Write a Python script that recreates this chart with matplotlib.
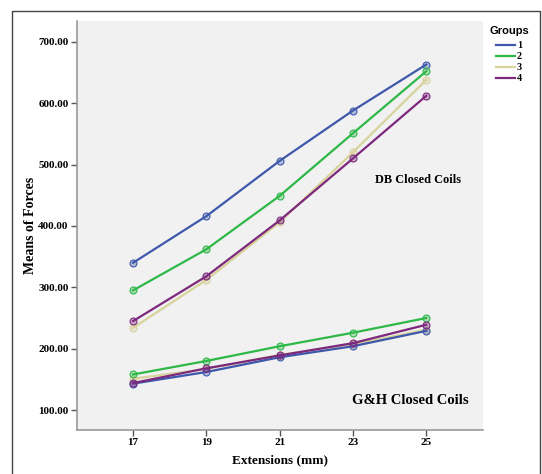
import matplotlib.pyplot as plt
from matplotlib.lines import Line2D
from matplotlib.colors import to_rgba

extensions = [17, 19, 21, 23, 25]
groups = ['1', '2', '3', '4']
colors = ['#3E58AC', '#2EB848', '#D8D29C', '#7C287D']

# DB closed coils, mean forces per group
db_forces = [
    [340, 416, 506, 588, 663],
    [295, 362, 449, 551, 652],
    [234, 312, 406, 520, 638],
    [245, 318, 409, 510, 612],
]
# G&H closed coils
gh_forces = [
    [143, 162, 186, 204, 229],
    [158, 180, 204, 226, 250],
    [151, 167, 190, 207, 231],
    [144, 168, 189, 209, 239],
]

serif = 'Liberation Serif'
W, H = 542, 474

fig = plt.figure(figsize=(W / 100, H / 100), dpi=100)
ax = fig.add_axes([77 / W, 44 / H, 406 / W, 409 / H])
ax.set_facecolor('#f1f1f1')

order = [2, 0, 1, 3]  # draw beige first so others sit on top
for i in order:
    c = colors[i]
    for vals in (db_forces[i], gh_forces[i]):
        ax.plot(extensions, vals, color=c, lw=1.6, marker='o', ms=5,
                mfc=to_rgba(c, 0.35), mec=c, mew=0.8, zorder=3)

ax.set_xlim(15.47, 26.55)
ax.set_ylim(67.5, 734)
ax.set_xticks(extensions)
ax.set_yticks([100, 200, 300, 400, 500, 600, 700])
ax.set_yticklabels([f'{v:.2f}' for v in ax.get_yticks()])
for lab in ax.get_xticklabels() + ax.get_yticklabels():
    lab.set_fontfamily(serif)
    lab.set_fontweight('bold')
    lab.set_fontsize(8)
ax.tick_params(direction='out', length=4, width=1, color='#555555', pad=2)

for s in ['top', 'right']:
    ax.spines[s].set_visible(False)
for s in ['left', 'bottom']:
    ax.spines[s].set_color('#999999')
    ax.spines[s].set_linewidth(1.2)

ax.set_xlabel('Extensions (mm)', fontfamily=serif, fontweight='bold', fontsize=9.5, labelpad=5)
ax.set_ylabel('Means of Forces', fontfamily=serif, fontweight='bold', fontsize=10, labelpad=1)

# annotations placed in figure pixels (y from top)
fig.text(418 / W, 1 - 180 / H, 'DB Closed Coils', fontfamily=serif,
         fontsize=8.8, fontweight='bold', ha='center', va='center')
fig.text(410 / W, 1 - 400 / H, 'G&H Closed Coils', fontfamily=serif,
         fontsize=10.5, fontweight='bold', ha='center', va='center')

fig.text(490 / W, 1 - 31 / H, 'Groups', fontfamily='Liberation Sans',
         fontsize=8, fontweight='bold', ha='left', va='center')
handles = [Line2D([], [], color=c, lw=1.6) for c in colors]
leg = fig.legend(handles, groups, loc='upper left', bbox_to_anchor=(496 / W, 1 - 41 / H),
                 frameon=False, handlelength=1.85, handletextpad=0.2,
                 labelspacing=0.2, borderpad=0, borderaxespad=0,
                 prop={'family': serif, 'weight': 'bold', 'size': 7.3})

# outer frame
fig.add_artist(Line2D([12 / W, 12 / W, 540 / W, 540 / W],
                      [0, 1 - 11 / H, 1 - 11 / H, 0],
                      transform=fig.transFigure, color='#444444', lw=1))

fig.savefig('out.png', dpi=100)
